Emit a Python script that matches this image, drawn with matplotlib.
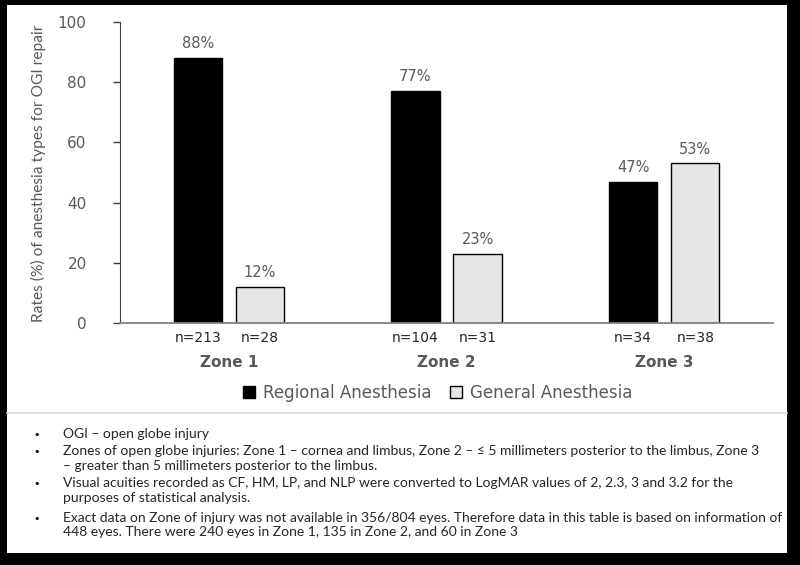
import numpy as np
import matplotlib
matplotlib.use("Agg")
import matplotlib.pyplot as plt
from matplotlib.patches import Patch, Rectangle
from matplotlib.lines import Line2D

# data
zones = ["Zone 1", "Zone 2", "Zone 3"]
regional = [88, 77, 47]
general = [12, 23, 53]
n_regional = [213, 104, 34]
n_general = [28, 31, 38]
yticks = [0, 20, 40, 60, 80, 100]
notes = [
    "OGI \u2013 open globe injury",
    "Zones of open globe injuries: Zone 1 \u2013 cornea and limbus, Zone 2 \u2013 \u2264 5 millimeters posterior to the limbus, Zone 3\n"
    "\u2013 greater than 5 millimeters posterior to the limbus.",
    "Visual acuities recorded as CF, HM, LP, and NLP were converted to LogMAR values of 2, 2.3, 3 and 3.2 for the\n"
    "purposes of statistical analysis.",
    "Exact data on Zone of injury was not available in 356/804 eyes. Therefore data in this table is based on information of\n"
    "448 eyes. There were 240 eyes in Zone 1, 135 in Zone 2, and 60 in Zone 3",
]

W, H = 800, 565
grey_txt = "#595959"

fig = plt.figure(figsize=(8, 5.65), dpi=100, facecolor="black")

# white page inside black frame
fig.patches.append(Rectangle((7 / W, 1 - 553 / H), 780 / W, 548 / H,
                             transform=fig.transFigure, facecolor="white",
                             edgecolor="none", zorder=-10))
# separator between chart and notes
fig.lines.append(Line2D([7 / W, 787 / W], [1 - 413 / H, 1 - 413 / H],
                        transform=fig.transFigure, color="#d9d9d9", lw=1.2, zorder=-5))

                                    # Chart
#---------------------------------------------------------------------------------------------------
ax = fig.add_axes([120 / W, 1 - 323 / H, 653 / W, 301 / H])
ax.patch.set_alpha(0)

x = np.arange(len(zones)) + 0.5
bw = 0.222
off = 0.143
b1 = ax.bar(x - off, regional, bw, color="black", edgecolor="black", lw=1)
b2 = ax.bar(x + off, general, bw, color="#e6e6e6", edgecolor="black", lw=1)

for bars, vals in [(b1, regional), (b2, general)]:
    for rect, v in zip(bars, vals):
        ax.annotate(f"{v}%", (rect.get_x() + rect.get_width() / 2, v),
                    xytext=(0, 5), textcoords="offset points",
                    ha="center", va="bottom", fontsize=10.5, color=grey_txt)

for i in range(len(zones)):
    ax.annotate(f"n={n_regional[i]}", (x[i] - off, 0), xycoords=("data", "axes fraction"),
                xytext=(0, -11), textcoords="offset points", ha="center", va="center",
                fontsize=10, color="#262626")
    ax.annotate(f"n={n_general[i]}", (x[i] + off, 0), xycoords=("data", "axes fraction"),
                xytext=(0, -11), textcoords="offset points", ha="center", va="center",
                fontsize=10, color="#262626")
    ax.annotate(zones[i], (x[i], 0), xycoords=("data", "axes fraction"),
                xytext=(0, -28.5), textcoords="offset points", ha="center", va="center",
                fontsize=11, fontweight="bold", color=grey_txt)

ax.set_xlim(0, 3)
ax.set_ylim(0, 100)
ax.set_yticks(yticks)
ax.set_xticks([])
ax.tick_params(axis="y", direction="out", length=5, width=1, color="#404040",
               labelsize=11, labelcolor=grey_txt, pad=19)
for s in ["top", "right"]:
    ax.spines[s].set_visible(False)
ax.spines["left"].set_color("#404040")
ax.spines["bottom"].set_color("#808080")
ax.spines["bottom"].set_linewidth(1.3)

fig.text(38 / W, 1 - 173 / H, "Rates (%) of anesthesia types for OGI repair",
         rotation=90, ha="center", va="center", fontsize=11.2,
         family="Lato", color=grey_txt)

                                    # Legend
#---------------------------------------------------------------------------------------------------
handles = [Patch(facecolor="black", edgecolor="black"),
           Patch(facecolor="#e6e6e6", edgecolor="black")]
fig.legend(handles, ["Regional Anesthesia", "General Anesthesia"], ncol=2,
           loc="center", bbox_to_anchor=(438 / W, 1 - 393 / H), frameon=False,
           handlelength=0.7, handleheight=0.7, handletextpad=0.5, columnspacing=1.1,
           labelcolor=grey_txt, prop={"size": 12})

                                    # Notes
#---------------------------------------------------------------------------------------------------
note_y = [435, 452, 484, 519]
for y, t in zip(note_y, notes):
    fig.text(37 / W, 1 - y / H, "\u2022", ha="center", va="center", fontsize=8, color="black")
    fig.text(63 / W, 1 - (y - 7) / H, t, ha="left", va="top", fontsize=10,
             family="Lato", color="#262626", linespacing=1.25)

fig.savefig("out.png", dpi=100, facecolor="black")
